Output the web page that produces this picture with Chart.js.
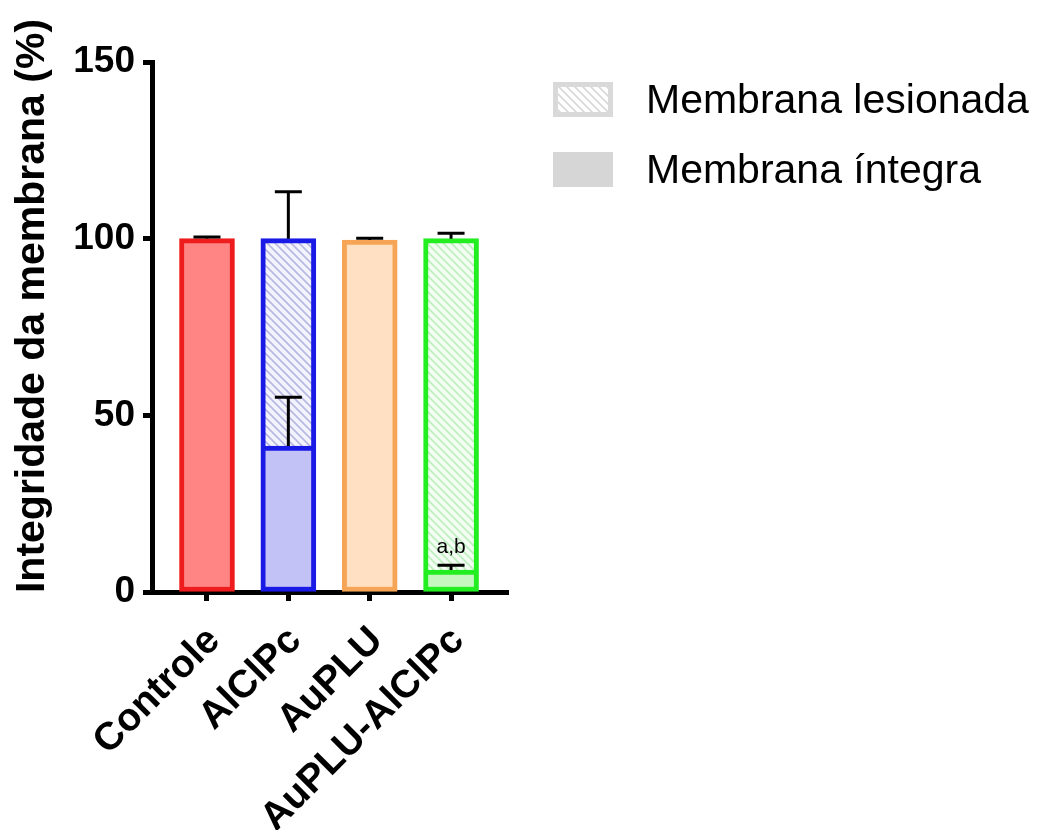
<!DOCTYPE html>
<html>
<head>
<meta charset="utf-8">
<script src="https://cdn.jsdelivr.net/npm/chart.js@4.4.0/dist/chart.umd.min.js"></script>
<style>
    html, body { margin: 0; padding: 0; background: #fff; }
    canvas { display: block; }
</style>
</head>
<body>
<canvas id="membraneChart" width="1059" height="830"></canvas>
<script>
// Chart data
const categories = ['Controle', 'AlClPc', 'AuPLU', 'AuPLU-AlClPc'];
const intactValues = [100, 41.3, 99.6, 6.2];
const damagedValues = [0, 58.7, 0, 93.8];
const intactErrorTop = [100.5, 55.1, 100.1, 7.6];
const damagedErrorTop = [null, 113.3, null, 101.5];
const significanceLabels = [null, null, null, 'a,b'];
const yTickValues = [0, 50, 100, 150];
const seriesLabels = ['Membrana lesionada', 'Membrana íntegra'];
const axisTitle = 'Integridade da membrana (%)';

// Colours per group
const borderColors = ['#ee1c1c', '#1a1ae6', '#f5a555', '#22ee22'];
const fillColors = ['#ff8585', '#c2c2f7', '#ffe0c2', '#c6f7c0'];
const hatchBack = ['#fff0f0', '#f3f3fc', '#fff8f0', '#f3fdf3'];
const hatchLine = ['#f4b0b0', '#b6b6e2', '#f4d4b4', '#bdeebd'];

const FONT = '"Liberation Sans", Arial, sans-serif';

// Diagonal hatch pattern ("\" direction)
function makeHatch(bg, line) {
    const s = 8;
    const tile = document.createElement('canvas');
    tile.width = s;
    tile.height = s;
    const c = tile.getContext('2d');
    c.fillStyle = bg;
    c.fillRect(0, 0, s, s);
    c.strokeStyle = line;
    c.lineWidth = 1.6;
    c.beginPath();
    c.moveTo(-2, -2); c.lineTo(s + 2, s + 2);
    c.moveTo(-2, s - 2); c.lineTo(2, s + 2);
    c.moveTo(s - 2, -2); c.lineTo(s + 2, 2);
    c.stroke();
    return c.createPattern(tile, 'repeat');
}

const ctx = document.getElementById('membraneChart').getContext('2d');
const hatchFills = hatchBack.map((bg, i) => makeHatch(bg, hatchLine[i]));

// Error bars + significance letters
const errorBarPlugin = {
    id: 'errorBars',
    afterDatasetsDraw(chart) {
        const xs = chart.scales.x, ys = chart.scales.y;
        const c = chart.ctx;
        const cap = 13.5;
        c.save();
        c.strokeStyle = '#000';
        c.lineWidth = 3;
        categories.forEach((cat, i) => {
            const x = xs.getPixelForValue(i);
            const bars = [
                [intactValues[i], intactErrorTop[i]],
                [intactValues[i] + damagedValues[i], damagedErrorTop[i]]
            ];
            bars.forEach(([base, top]) => {
                if (top === null) return;
                const y0 = ys.getPixelForValue(base);
                const y1 = ys.getPixelForValue(top);
                c.beginPath();
                c.moveTo(x, y0);
                c.lineTo(x, y1);
                c.moveTo(x - cap, y1);
                c.lineTo(x + cap, y1);
                c.stroke();
            });
            if (significanceLabels[i]) {
                c.fillStyle = '#000';
                c.font = '21px ' + FONT;
                c.textAlign = 'center';
                c.textBaseline = 'alphabetic';
                c.fillText(significanceLabels[i], x, ys.getPixelForValue(intactErrorTop[i]) - 12);
            }
        });
        c.restore();
    }
};

// Y axis title and legend placed as in the figure
const decorPlugin = {
    id: 'decor',
    afterDraw(chart) {
        const c = chart.ctx;
        const area = chart.chartArea;
        c.save();
        c.fillStyle = '#000';
        c.font = 'bold 41px ' + FONT;
        c.textAlign = 'center';
        c.textBaseline = 'middle';
        c.translate(33, area.top + (area.bottom - area.top) / 2 - 21);
        c.rotate(-Math.PI / 2);
        c.fillText(axisTitle, 0, 0);
        c.restore();

        c.save();
        const boxX = 553, boxW = 60, boxH = 35;
        const rows = [82, 152];
        // hatched box (damaged)
        c.fillStyle = makeHatch('#ffffff', '#d8d8d8');
        c.fillRect(boxX, rows[0], boxW, boxH);
        c.strokeStyle = '#d9d9d9';
        c.lineWidth = 5;
        c.strokeRect(boxX + 2.5, rows[0] + 2.5, boxW - 5, boxH - 5);
        // solid box (intact)
        c.fillStyle = '#d6d6d6';
        c.fillRect(boxX, rows[1], boxW, boxH);
        c.fillStyle = '#000';
        c.font = '41px ' + FONT;
        c.textAlign = 'left';
        c.textBaseline = 'alphabetic';
        seriesLabels.forEach((label, i) => {
            c.fillText(label, 646, rows[i] + 31);
        });
        c.restore();
    }
};

new Chart(ctx, {
    type: 'bar',
    data: {
        datasets: [
            {
                label: seriesLabels[1],
                data: intactValues.map((v, i) => ({ x: i, y: v })),
                backgroundColor: fillColors,
                borderColor: borderColors,
                borderWidth: 5,
                borderSkipped: false,
                barThickness: 55
            },
            {
                label: seriesLabels[0],
                data: damagedValues.map((v, i) => ({ x: i, y: v })),
                backgroundColor: hatchFills,
                borderColor: borderColors,
                borderWidth: 5,
                borderSkipped: 'bottom',
                barThickness: 55
            }
        ]
    },
    options: {
        responsive: false,
        animation: false,
        layout: { padding: { left: 0, top: 62, right: 551, bottom: 0 } },
        plugins: {
            legend: { display: false },
            tooltip: { enabled: false }
        },
        scales: {
            x: {
                type: 'linear',
                stacked: true,
                offset: false,
                min: -0.676,
                max: 3.70,
                afterBuildTicks(scale) {
                    scale.ticks = categories.map((c, i) => ({ value: i }));
                },
                afterFit(scale) { scale.height = 238; },
                ticks: {
                    callback: (v) => categories[v],
                    autoSkip: false,
                    minRotation: 45,
                    maxRotation: 45,
                    padding: 17,
                    labelOffset: 7,
                    color: '#000',
                    font: { family: FONT, size: 39, weight: 'bold' }
                },
                grid: {
                    offset: false,
                    drawOnChartArea: false,
                    drawTicks: true,
                    tickLength: 9,
                    tickWidth: 5,
                    tickColor: '#000'
                },
                border: { display: true, width: 5, color: '#000' }
            },
            y: {
                stacked: true,
                min: 0,
                max: 150,
                afterBuildTicks(scale) {
                    scale.ticks = yTickValues.map(v => ({ value: v }));
                },
                afterFit(scale) { scale.width = 152; },
                ticks: {
                    padding: 8,
                    color: '#000',
                    font: { family: FONT, size: 37, weight: 'bold' }
                },
                grid: {
                    drawOnChartArea: false,
                    drawTicks: true,
                    tickLength: 9,
                    tickWidth: 5,
                    tickColor: '#000'
                },
                border: { display: true, width: 5, color: '#000' }
            }
        }
    },
    plugins: [errorBarPlugin, decorPlugin]
});
</script>
</body>
</html>
